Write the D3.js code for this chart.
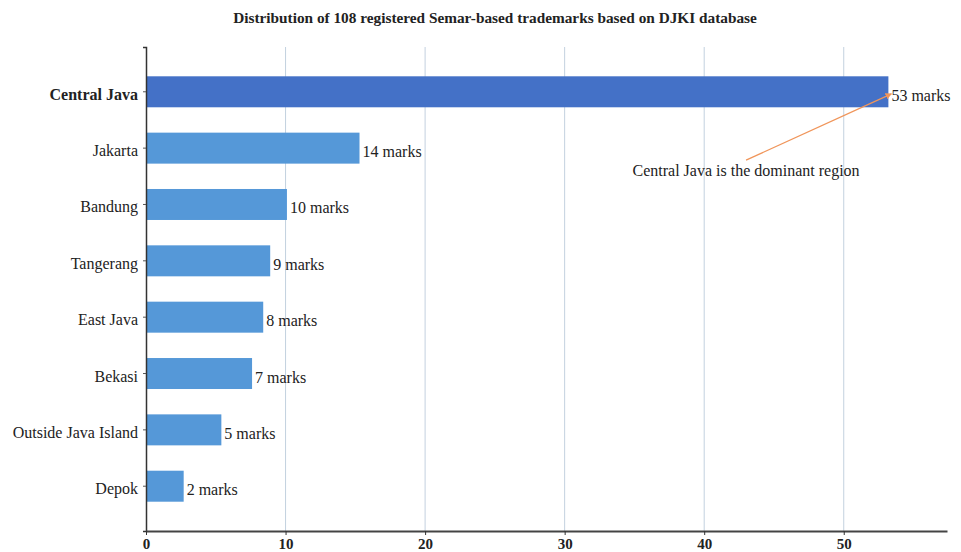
<!DOCTYPE html>
<html>
<head>
<meta charset="utf-8">
<script src="https://cdn.jsdelivr.net/npm/d3@7"></script>
<style>
  html, body { margin: 0; padding: 0; background: #fff; }
  svg { display: block; }
  text { font-family: "Liberation Serif", "Times New Roman", serif; }
</style>
</head>
<body>
<svg id="chart" width="961" height="552"></svg>
<script>
// ---- data ----
const categories = ["Central Java", "Jakarta", "Bandung", "Tangerang", "East Java", "Bekasi", "Outside Java Island", "Depok"];
const barValues = [53.2, 15.3, 10.1, 8.9, 8.4, 7.6, 5.4, 2.7];   // bar lengths as drawn
const counts = [53, 14, 10, 9, 8, 7, 5, 2];                       // label values
const xTicks = [0, 10, 20, 30, 40, 50];
const title = "Distribution of 108 registered Semar-based trademarks based on DJKI database";
const annotationText = "Central Java is the dominant region";

// ---- layout ----
const svg = d3.select("#chart");
const mLeft = 146, mRight = 947, mTop = 47, mBottom = 531;

const x = d3.scaleLinear().domain([0, 57.4]).range([mLeft, mRight]);
const y = d3.scaleBand().domain(categories).range([mTop, mBottom])
  .paddingInner(0.45).paddingOuter(0.52);

// title
svg.append("text")
  .attr("x", 495).attr("y", 23)
  .attr("text-anchor", "middle")
  .attr("font-size", 15.3).attr("font-weight", "bold").attr("fill", "#222")
  .text(title);

// grid lines
svg.append("g").selectAll("line")
  .data(xTicks.filter(d => d > 0))
  .join("line")
  .attr("x1", d => x(d)).attr("x2", d => x(d))
  .attr("y1", mTop).attr("y2", mBottom)
  .attr("stroke", "#c3d1df").attr("stroke-width", 1);

// bars
svg.append("g").selectAll("rect")
  .data(categories)
  .join("rect")
  .attr("x", x(0))
  .attr("y", d => y(d))
  .attr("width", (d, i) => x(barValues[i]) - x(0))
  .attr("height", y.bandwidth())
  .attr("fill", (d, i) => i === 0 ? "#4471c7" : "#5598d8");

// value labels
svg.append("g").selectAll("text")
  .data(categories)
  .join("text")
  .attr("x", (d, i) => x(barValues[i]) + 3)
  .attr("y", d => y(d) + y.bandwidth() / 2 + 9)
  .attr("font-size", 16).attr("fill", "#222")
  .text((d, i) => counts[i] + " marks");

// y axis
const yAxis = svg.append("g")
  .attr("transform", `translate(${mLeft},0)`)
  .call(d3.axisLeft(y).tickSize(3).tickPadding(5));
yAxis.select(".domain").attr("stroke", "#333").attr("stroke-width", 1.5);
yAxis.selectAll(".tick line").attr("stroke", "#555");
yAxis.selectAll(".tick text")
  .attr("font-family", "Liberation Serif, serif")
  .attr("font-size", 16).attr("fill", "#222")
  .attr("dy", "0.5em")
  .attr("font-weight", d => d === categories[0] ? "bold" : "normal");

// x axis
const xAxis = svg.append("g")
  .attr("transform", `translate(0,${mBottom})`)
  .call(d3.axisBottom(x).tickValues(xTicks).tickSize(4).tickPadding(3).tickSizeOuter(0));
xAxis.select(".domain").attr("stroke", "#444").attr("stroke-width", 2);
xAxis.selectAll(".tick line").attr("stroke", "#333");
xAxis.selectAll(".tick text")
  .attr("font-family", "Liberation Serif, serif")
  .attr("font-size", 15).attr("font-weight", "bold").attr("fill", "#222");

// annotation
const defs = svg.append("defs");
defs.append("marker")
  .attr("id", "arr").attr("viewBox", "0 0 10 10")
  .attr("refX", 9).attr("refY", 5)
  .attr("markerWidth", 5).attr("markerHeight", 5)
  .attr("orient", "auto")
  .append("path").attr("d", "M0,0 L10,5 L0,10 z").attr("fill", "#f0955a");

const cy0 = y(categories[0]) + y.bandwidth() / 2;
const cy1 = y(categories[1]) + y.bandwidth() / 2;
svg.append("line")
  .attr("x1", x(43)).attr("y1", cy1 + 12)
  .attr("x2", x(barValues[0]) + 3).attr("y2", cy0 + 2)
  .attr("stroke", "#f0955a").attr("stroke-width", 1.3)
  .attr("marker-end", "url(#arr)");
svg.append("text")
  .attr("x", x(43)).attr("y", cy1 + 28)
  .attr("text-anchor", "middle")
  .attr("font-size", 16).attr("fill", "#222")
  .text(annotationText);
</script>
</body>
</html>
